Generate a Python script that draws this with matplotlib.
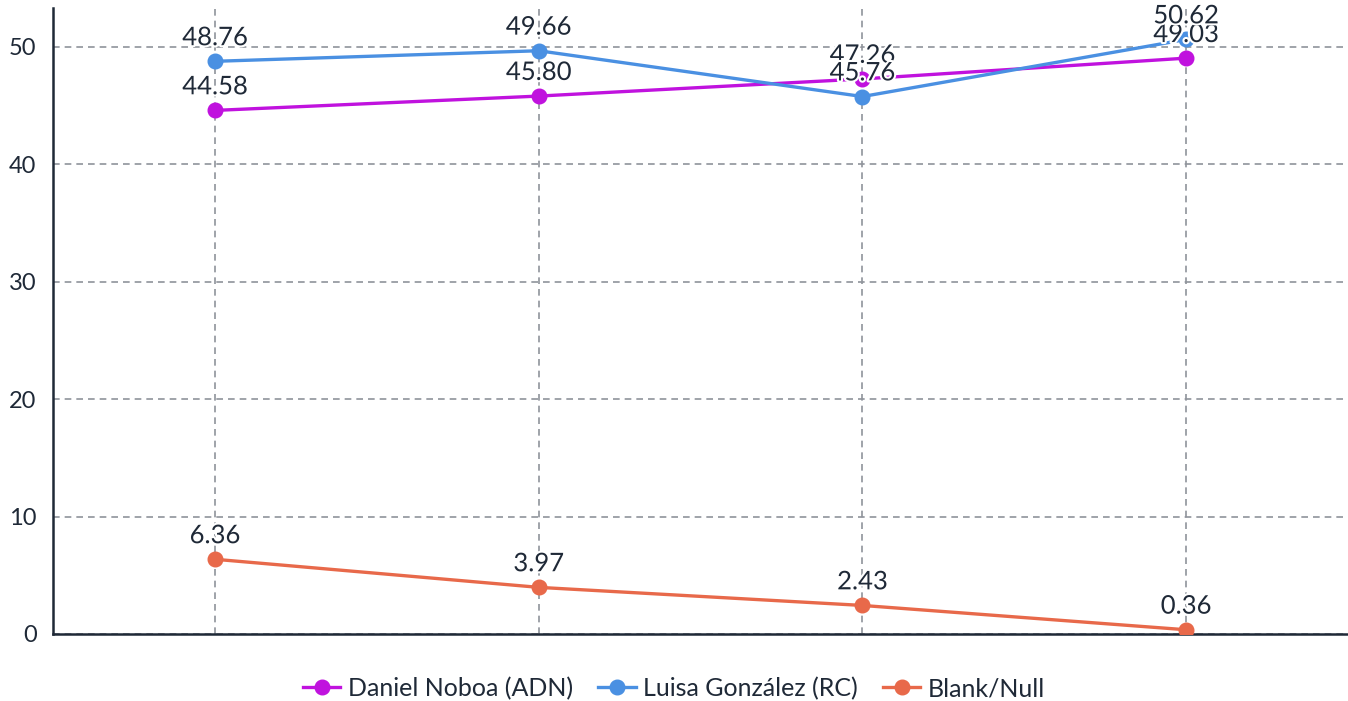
import matplotlib.pyplot as plt
import matplotlib.patheffects as pe

plt.rcParams['font.family'] = ['Lato', 'DejaVu Sans']

# dados
categorias = [0, 1, 2, 3]
noboa = [44.58, 45.80, 47.26, 49.03]
gonzalez = [48.76, 49.66, 45.76, 50.62]
nulos = [6.36, 3.97, 2.43, 0.36]

series = [
    ('Daniel Noboa (ADN)', noboa, '#c012de'),
    ('Luisa González (RC)', gonzalez, '#4a90e2'),
    ('Blank/Null', nulos, '#e8694a'),
]

fig = plt.figure(figsize=(13.48, 7.01), dpi=100)
ax = fig.add_axes([0.0395, 0.0956, 0.9605, 0.893])

for nome, valores, cor in series:
    ax.plot(categorias, valores, color=cor, lw=2.4, marker='o', ms=10.5,
            label=nome, zorder=3)

# rótulos de valores
for nome, valores, cor in series:
    for x, v in zip(categorias, valores):
        ax.annotate(f'{v:.2f}', (x, v), xytext=(0, 8), textcoords='offset points',
                    ha='center', va='bottom', fontsize=18.5, color='#1f2937', zorder=5,
                    path_effects=[pe.withStroke(linewidth=3, foreground='white')])

ax.set_xlim(-0.5, 3.5)
ax.set_ylim(0, 53.3)
ax.set_yticks([0, 10, 20, 30, 40, 50])
ax.set_xticks(categorias)
ax.set_xticklabels([])
ax.tick_params(axis='x', length=0)
ax.tick_params(axis='y', length=0, labelsize=17, colors='#1f2937', pad=12)
ax.grid(True, color='#8f939b', linestyle=(0, (4, 3)), linewidth=1.2)
ax.set_axisbelow(True)

for lado in ['top', 'right']:
    ax.spines[lado].set_visible(False)
for lado in ['left', 'bottom']:
    ax.spines[lado].set_color('#1f2937')
    ax.spines[lado].set_linewidth(1.8)

fig.legend(loc='center', bbox_to_anchor=(0.5, 0.018), ncol=3, frameon=False,
           fontsize=18, handlelength=1.5, handletextpad=0.3, columnspacing=1.0,
           labelcolor='#1f2937', markerscale=1.0)

fig.savefig('out.png', dpi=100)
